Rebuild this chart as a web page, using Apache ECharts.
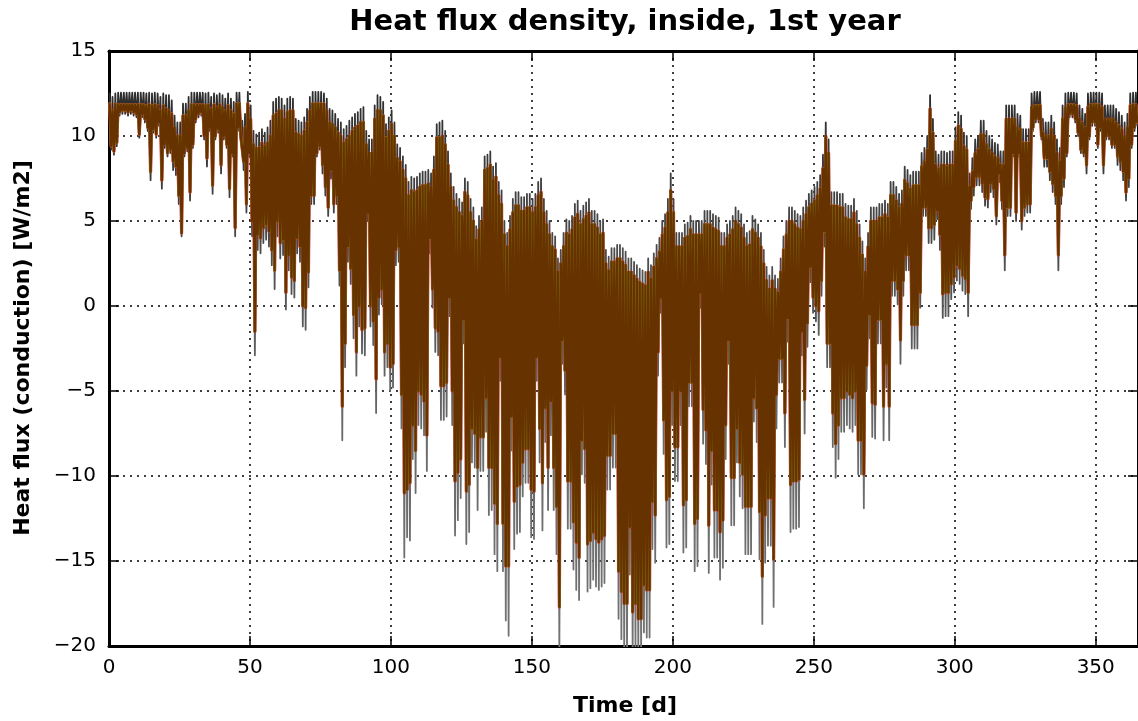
<!DOCTYPE html>
<html><head><meta charset="utf-8">
<script src="https://cdn.jsdelivr.net/npm/echarts/dist/echarts.min.js"></script>
<style>html,body{margin:0;padding:0;background:#fff;}#c{width:1138px;height:721px;}</style>
</head><body><div id="c"></div>
<script>
// Daily maximum / minimum of the heat flux (W/m2), day 0..364
const brownMax = [11.9,11.5,11.9,11.85,11.85,11.85,11.85,11.85,11.85,11.85,
11.85,11.85,11.85,11.8,11.85,11.8,11.85,11.8,11.5,11.8,
11.6,11.5,11.3,10.5,10.0,10.0,11.2,11.2,11.5,11.85,
11.85,11.85,11.85,11.85,11.8,11.85,11.6,11.85,11.7,11.85,
11.7,11.5,11.8,11.5,11.3,11.9,11.9,10.1,10.5,11.9,
11.0,9.5,9.3,9.3,9.6,9.4,9.6,10.0,11.2,11.3,
11.5,11.5,11.0,11.4,11.5,11.5,10.2,10.1,10.0,10.3,
10.8,11.5,11.9,11.9,11.9,11.9,11.9,11.5,10.8,10.7,
10.5,10.2,10.0,9.6,9.8,10.0,10.3,10.5,10.6,10.8,
10.8,9.5,9.0,9.0,11.0,11.5,11.5,11.2,9.9,10.3,
10.7,10.0,8.7,8.5,8.0,7.5,6.5,6.8,6.7,6.8,
7.0,7.1,7.1,7.2,7.0,8.0,9.9,9.9,10.0,9.5,
8.3,7.0,6.2,5.8,5.5,5.3,6.7,6.5,5.5,5.0,
3.9,4.5,5.0,8.0,8.1,8.3,7.4,7.6,6.5,6.0,
4.2,3.5,4.5,5.5,5.9,5.9,5.6,5.6,5.8,5.8,
5.5,5.8,6.5,6.7,5.5,4.8,4.2,3.5,3.3,2.0,
2.5,3.5,4.3,4.2,4.5,5.2,5.4,4.8,5.1,5.3,
5.5,4.8,4.8,4.6,4.2,4.3,2.5,2.1,2.6,2.6,
2.8,2.8,2.6,2.4,2.0,2.0,1.8,1.6,1.4,1.3,
1.2,2.0,1.6,2.3,2.8,3.2,4.2,4.6,5.5,6.8,
5.5,3.5,3.5,3.5,4.0,4.1,4.5,4.2,4.2,4.2,
4.2,4.8,4.8,4.8,4.6,4.5,4.4,3.5,3.5,4.0,
4.2,4.5,5.0,4.8,4.6,4.0,3.5,3.6,4.5,4.3,
4.0,3.5,2.5,1.5,1.0,1.5,1.0,0.8,2.0,3.3,
4.2,5.0,5.0,4.8,4.6,4.5,5.0,5.4,5.8,6.0,
6.2,6.5,6.9,8.1,10.0,9.0,5.9,5.9,5.9,5.8,
5.8,5.2,5.1,5.1,5.5,4.8,4.0,3.0,2.0,3.5,
5.0,5.0,5.0,5.2,5.2,5.4,5.2,6.5,6.5,6.2,
5.8,6.0,7.4,7.2,6.9,7.1,7.1,7.1,8.2,8.5,
9.2,11.6,10.2,8.3,8.1,8.3,8.3,8.2,8.3,8.3,
9.7,10.6,10.4,9.4,9.2,7.0,7.9,9.0,9.2,10.1,
10.1,9.5,9.2,9.0,8.8,8.7,8.3,8.3,11.0,11.0,
11.0,11.0,10.5,10.4,9.6,9.6,9.6,11.7,11.8,11.8,
11.8,10.2,10.0,10.0,10.4,10.0,9.0,8.5,11.0,11.7,
11.85,11.85,11.85,11.8,11.0,10.8,10.5,11.7,11.85,11.85,
11.85,11.85,11.7,11.0,11.0,11.0,11.0,10.8,10.6,10.4,
10.0,10.5,11.8,11.85,11.85];
const brownMin = [9.4,9.1,9.6,11.4,11.5,11.5,11.4,11.5,11.4,11.3,
10.1,11.3,11.0,10.5,7.9,10.4,10.1,10.8,7.4,9.5,
9.0,9.2,8.5,8.2,6.5,4.3,9.0,9.3,6.7,9.5,
11.0,11.3,11.4,10.0,8.7,10.5,7.1,10.0,10.4,8.3,
10.0,9.5,6.9,9.0,4.6,10.5,10.0,8.5,6.0,9.0,
5.0,-1.5,4.2,4.0,4.6,4.8,4.4,3.3,2.1,5.0,
3.7,3.9,0.8,3.0,1.7,1.5,4.0,3.5,0.0,-0.1,
2.0,6.5,6.5,9.0,9.4,8.3,7.0,5.8,8.0,6.0,
6.5,2.1,-5.9,-2.2,3.5,2.2,-0.5,-2.7,0.0,-1.4,
-1.3,5.5,0.0,-0.9,-4.3,0.5,1.0,-2.7,-2.2,-3.6,
-3.4,3.3,3.5,-5.2,-11.0,-10.8,-10.4,-7.0,-8.5,-5.0,
-5.2,-5.6,-7.6,4.0,1.0,-1.3,-1.5,-4.7,-4.7,-4.5,
0.5,-5.0,-10.3,-9.8,-9.0,-0.8,-10.9,-10.5,-7.2,-7.5,
-9.5,-7.7,-7.7,-5.4,-9.5,-9.5,-11.6,-12.8,-3.0,-12.8,
-15.3,-15.3,-6.5,-11.5,-10.6,-10.5,-9.2,-8.4,-8.4,-10.8,
-10.9,-3.0,-7.2,-10.4,-6.0,-9.5,-5.6,-9.5,-11.8,-17.7,
-2.0,-3.8,-10.3,-10.3,-12.7,-13.9,-14.8,-7.9,-8.4,-14.0,
-13.8,-13.3,-13.7,-13.9,-13.7,-13.5,-8.8,-8.8,-7.5,-7.5,
-15.6,-16.8,-17.5,-17.5,-13.0,-18.0,-17.5,-18.4,-18.4,-16.4,
-16.7,-16.7,-11.5,-12.3,-2.7,0.5,-6.7,-11.4,-11.2,-5.0,
-8.3,-8.3,-5.0,-11.7,-11.4,-4.5,-4.5,-12.8,-12.5,0.8,
-6.1,-7.3,-12.9,-8.5,-12.0,-12.0,-13.3,-12.6,-7.0,-2.0,
-10.1,-10.1,-7.2,-9.2,-9.9,-11.8,-11.8,-11.8,-5.4,-6.0,
-12.1,-15.9,-12.3,-11.3,-11.3,-14.9,-5.2,-3.1,-3.1,-6.3,
-0.7,-10.5,-10.3,-10.3,-10.2,-1.5,-5.5,-1.0,2.3,0.5,
0.0,-0.3,1.5,4.4,-2.2,-2.2,-6.3,-8.1,-7.0,-5.4,
-5.4,-5.0,-5.2,-5.4,-5.0,-7.9,-7.9,-9.9,-3.5,-0.5,
-5.7,-5.8,-0.8,-0.8,-5.9,-3.4,-5.9,1.5,1.5,1.0,
-2.0,1.5,3.0,3.0,-1.1,-1.1,-1.1,0.8,5.8,5.8,
4.6,4.6,4.8,5.6,4.2,0.7,0.8,0.8,1.3,1.7,
2.4,2.2,1.8,1.6,0.8,6.2,7.0,7.6,7.6,7.2,
6.4,6.3,7.2,6.9,5.3,7.8,6.2,3.0,5.8,5.8,
9.0,5.5,9.0,5.0,5.8,6.0,6.0,10.5,11.0,11.0,
10.0,8.7,8.7,7.9,7.2,6.5,3.0,6.5,7.5,9.0,
11.3,11.3,11.0,10.2,9.2,9.0,8.3,10.0,10.8,10.8,
9.5,10.5,8.3,10.0,10.0,9.5,9.5,8.8,8.5,7.9,
6.7,7.5,9.5,10.5,10.8];
const grayMax = [12.5,12.3,12.5,12.55,12.55,12.55,12.55,12.55,12.55,12.55,
12.55,12.55,12.55,12.5,12.55,12.5,12.55,12.5,12.3,12.5,
12.4,12.4,12.1,11.2,10.8,10.8,11.9,11.9,12.3,12.55,
12.55,12.55,12.55,12.55,12.5,12.55,12.3,12.5,12.4,12.5,
12.4,12.2,12.5,12.2,12.0,12.55,12.55,10.9,11.3,12.6,
11.8,10.3,10.1,10.2,10.4,10.2,10.5,10.9,12.0,12.2,
12.3,12.2,11.8,12.2,12.3,12.2,11.0,10.9,10.8,11.1,
11.6,12.3,12.6,12.6,12.6,12.6,12.5,12.2,11.6,11.5,
11.3,11.0,10.8,10.4,10.6,10.9,11.1,11.3,11.4,11.6,
11.7,10.3,9.8,9.8,11.8,12.4,12.3,12.0,10.7,11.1,
11.5,10.8,9.5,9.3,8.8,8.3,7.3,7.6,7.5,7.6,
7.8,7.9,7.9,8.0,7.8,8.8,10.7,10.8,10.9,10.3,
9.1,7.8,7.0,6.6,6.3,6.1,7.5,7.3,6.3,5.8,
4.7,5.3,5.8,8.8,8.9,9.1,8.2,8.4,7.3,6.8,
5.0,4.3,5.3,6.3,6.7,6.7,6.4,6.4,6.6,6.6,
6.3,6.6,7.3,7.5,6.3,5.6,5.0,4.3,4.1,2.8,
3.3,4.3,5.1,5.0,5.3,6.0,6.2,5.6,5.9,6.1,
6.3,5.6,5.6,5.4,5.0,5.1,3.3,2.9,3.4,3.4,
3.6,3.6,3.4,3.2,2.8,2.8,2.6,2.4,2.2,2.1,
2.0,2.8,2.4,3.1,3.6,4.0,5.0,5.4,6.3,7.8,
6.3,4.3,4.3,4.3,4.8,4.9,5.3,5.0,5.0,5.0,
5.0,5.6,5.6,5.6,5.4,5.3,5.2,4.3,4.3,4.8,
5.0,5.3,5.8,5.6,5.4,4.8,4.3,4.4,5.3,5.1,
4.8,4.3,3.3,2.3,1.8,2.3,1.8,1.6,2.8,4.1,
5.0,5.8,5.8,5.6,5.4,5.3,5.8,6.2,6.6,6.8,
7.0,7.3,7.7,8.9,10.8,9.8,6.7,6.7,6.7,6.6,
6.6,6.0,5.9,5.9,6.3,5.6,4.8,3.8,2.8,4.3,
5.8,5.8,5.8,6.0,6.0,6.2,6.0,7.3,7.3,7.0,
6.6,6.8,8.2,8.0,7.7,7.9,7.9,7.9,9.0,9.3,
10.0,12.4,11.0,9.1,8.9,9.1,9.1,9.0,9.1,9.1,
10.5,11.4,11.2,10.2,10.0,7.8,8.7,9.8,10.0,10.9,
10.9,10.3,10.0,9.8,9.6,9.5,9.1,9.1,11.8,11.8,
11.8,11.8,11.3,11.2,10.4,10.4,10.4,12.5,12.6,12.6,
12.6,11.0,10.8,10.8,11.2,10.8,9.8,9.3,11.8,12.5,
12.55,12.55,12.55,12.5,11.8,11.6,11.3,12.5,12.55,12.55,
12.55,12.55,12.5,11.8,11.8,11.8,11.8,11.6,11.4,11.2,
10.8,11.3,12.5,12.55,12.55];
const grayMin = [9.2,8.9,9.4,11.2,11.3,11.3,11.2,11.3,11.2,11.1,
9.9,11.1,10.8,10.3,7.4,10.2,9.9,10.6,6.9,9.3,
8.8,9.0,8.0,7.7,6.0,4.1,8.8,9.1,6.2,9.3,
10.8,11.1,11.2,9.8,8.2,10.3,6.6,9.8,10.2,7.8,
9.8,9.3,6.4,8.8,4.1,10.3,9.8,8.0,5.5,8.8,
4.1,-2.9,3.3,3.1,3.7,3.9,3.5,2.4,1.0,4.1,
2.8,3.0,-0.2,2.1,0.7,0.5,3.1,2.6,-1.2,-1.4,
1.1,6.0,6.0,8.8,9.2,7.8,6.5,5.3,7.5,5.5,
6.0,1.2,-7.9,-3.6,2.6,1.3,-1.9,-4.1,-1.2,-2.8,
-2.9,5.0,-1.2,-2.3,-6.3,-0.5,0.1,-4.1,-3.6,-5.0,
-4.8,2.4,2.6,-7.2,-14.8,-13.6,-13.8,-9.0,-11.0,-7.0,
-7.2,-7.6,-9.7,3.1,-0.1,-2.7,-2.9,-6.7,-6.7,-6.5,
-0.6,-7.0,-13.5,-12.6,-11.3,-2.2,-14.0,-13.3,-9.2,-9.5,
-12.0,-9.7,-9.7,-7.4,-12.3,-12.0,-14.6,-15.6,-4.4,-15.6,
-18.5,-19.4,-8.5,-14.3,-13.4,-13.3,-11.2,-10.4,-10.4,-13.6,
-13.7,-4.4,-9.2,-13.2,-8.0,-12.0,-7.6,-12.0,-14.6,-20.5,
-3.4,-5.2,-13.1,-13.1,-15.5,-16.7,-17.3,-9.9,-10.4,-16.8,
-16.6,-16.1,-16.5,-16.7,-16.5,-16.3,-10.8,-10.8,-9.5,-9.5,
-18.4,-19.6,-20.5,-20.5,-15.8,-20.5,-20.2,-20.5,-20.5,-19.2,
-19.5,-19.5,-14.3,-15.1,-4.1,-0.4,-8.7,-14.2,-14.0,-7.0,
-10.3,-10.3,-7.0,-14.5,-14.2,-5.9,-5.9,-15.6,-15.3,-0.1,
-8.1,-9.3,-15.7,-10.5,-14.8,-14.8,-16.1,-15.4,-9.0,-3.4,
-12.9,-12.9,-9.2,-11.2,-11.9,-14.6,-14.6,-14.6,-6.8,-8.0,
-14.9,-18.7,-15.1,-14.1,-14.1,-17.7,-7.2,-4.5,-4.5,-8.3,
-2.1,-13.3,-13.1,-13.1,-13.0,-2.9,-7.5,-2.4,1.4,-0.4,
-0.9,-1.7,0.6,3.5,-3.6,-3.6,-8.3,-10.1,-9.0,-7.4,
-7.4,-7.0,-7.2,-7.4,-7.0,-9.9,-9.9,-11.9,-4.9,-1.9,
-7.7,-7.8,-2.2,-2.2,-7.9,-4.8,-7.9,0.6,0.6,0.1,
-3.4,0.6,2.1,2.1,-2.5,-2.5,-2.5,-0.1,5.3,5.3,
3.7,3.7,3.9,5.1,3.3,-0.7,-0.6,-0.6,0.4,0.8,
1.5,1.3,0.9,0.7,-0.6,5.7,6.5,7.1,7.1,6.7,
5.9,5.8,6.7,6.4,4.8,7.3,5.7,2.1,5.3,5.3,
8.8,5.0,8.8,4.5,5.3,5.5,5.5,10.3,10.8,10.8,
9.8,8.2,8.2,7.4,6.7,6.0,2.1,6.0,7.0,8.8,
11.1,11.1,10.8,10.0,9.0,8.8,7.8,9.8,10.6,10.6,
9.3,10.3,7.8,9.8,9.8,9.3,9.3,8.3,8.0,7.4,
6.2,7.0,9.3,10.3,10.6];

const xTicks = [0, 50, 100, 150, 200, 250, 300, 350];
const yTicks = [-20, -15, -10, -5, 0, 5, 10, 15];
const titleText = 'Heat flux density, inside, 1st year';
const xName = 'Time [d]';
const yName = 'Heat flux (conduction) [W/m2]';

function zigzag(maxArr, minArr) {
  const out = [];
  for (let d = 0; d < maxArr.length; d++) {
    out.push([d + 0.25, maxArr[d]]);
    out.push([d + 0.75, minArr[d]]);
  }
  return out;
}

const FONT = '"DejaVu Sans", "Liberation Sans", sans-serif';
const chart = echarts.init(document.getElementById('c'), null, {renderer: 'canvas'});

function lineSeries(data, color, width) {
  return {
    type: 'line', data: data, showSymbol: false, symbol: 'none', silent: true,
    animation: false, clip: true, xAxisIndex: 0, yAxisIndex: 0,
    lineStyle: {color: color, width: width, join: 'round', cap: 'round'}
  };
}

const brownData = zigzag(brownMax, brownMin);
const grayData = zigzag(grayMax, grayMin);

const grayGrad = new echarts.graphic.LinearGradient(0, 0, 0, 1, [
  {offset: 0, color: '#2c2c2c'},
  {offset: 0.3, color: '#4e4e4e'},
  {offset: 0.6, color: '#6a6a6a'},
  {offset: 1, color: '#737373'}
]);

const gridDash = [2, 5];

chart.setOption({
  backgroundColor: '#ffffff',
  animation: false,
  grid: {left: 109, top: 51, width: 1031, height: 595, show: false, containLabel: false},
  xAxis: [{
    type: 'value', min: 0, max: 365, interval: 50, position: 'bottom',
    axisLine: {show: true, onZero: false, lineStyle: {color: '#000', width: 3}},
    axisTick: {show: true, inside: true, length: 10, lineStyle: {color: '#000', width: 1.5}},
    axisLabel: {show: true, fontSize: 20, color: '#000', fontFamily: FONT, margin: 12,
      showMaxLabel: false,
      formatter: v => (xTicks.indexOf(v) >= 0 ? String(v) : '')},
    splitLine: {show: true, lineStyle: {color: '#000', width: 1.5, type: gridDash}}
  }, {
    type: 'value', min: 0, max: 365, interval: 50, position: 'top',
    axisLine: {show: true, onZero: false, lineStyle: {color: '#000', width: 3}},
    axisTick: {show: true, inside: true, length: 10, lineStyle: {color: '#000', width: 1.5}},
    axisLabel: {show: false}, splitLine: {show: false}
  }],
  yAxis: [{
    type: 'value', min: -20, max: 15, interval: 5, position: 'left',
    axisLine: {show: true, onZero: false, lineStyle: {color: '#000', width: 3}},
    axisTick: {show: true, inside: true, length: 10, lineStyle: {color: '#000', width: 1.5}},
    axisLabel: {show: true, fontSize: 20, color: '#000', fontFamily: FONT, margin: 13,
      formatter: v => (yTicks.indexOf(v) >= 0 ? (v < 0 ? '\u2212' + Math.abs(v) : String(v)) : '')},
    splitLine: {show: true, lineStyle: {color: '#000', width: 1.5, type: gridDash}}
  }, {
    type: 'value', min: -20, max: 15, interval: 5, position: 'right',
    axisLine: {show: true, onZero: false, lineStyle: {color: '#000', width: 3}},
    axisTick: {show: true, inside: true, length: 10, lineStyle: {color: '#000', width: 1.5}},
    axisLabel: {show: false}, splitLine: {show: false}
  }],
  series: [
    lineSeries(grayData, grayGrad, 1.8),
    lineSeries(brownData, '#dc143c', 3.2),
    lineSeries(brownData, '#8f8f20', 2.7),
    lineSeries(brownData, '#663300', 2.3)
  ],
  graphic: [
    {type: 'text', x: 625, y: 22, silent: true, style: {text: titleText, fill: '#000',
      font: 'bold 29px ' + FONT, fontSize: 29, fontWeight: 'bold', fontFamily: FONT,
      align: 'center', verticalAlign: 'middle', textAlign: 'center', textVerticalAlign: 'middle'}},
    {type: 'text', x: 625, y: 706, silent: true, style: {text: xName, fill: '#000',
      font: 'bold 22px ' + FONT, fontSize: 22, fontWeight: 'bold', fontFamily: FONT,
      align: 'center', verticalAlign: 'middle', textAlign: 'center', textVerticalAlign: 'middle'}},
    {type: 'text', x: 23, y: 348, rotation: Math.PI / 2, silent: true, style: {text: yName, fill: '#000',
      font: 'bold 22px ' + FONT, fontSize: 22, fontWeight: 'bold', fontFamily: FONT,
      align: 'center', verticalAlign: 'middle', textAlign: 'center', textVerticalAlign: 'middle'}}
  ]
});
</script>
</body></html>
